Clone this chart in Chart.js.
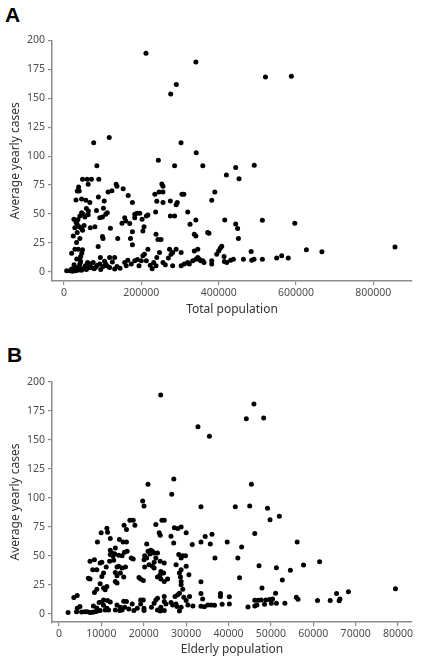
<!DOCTYPE html>
<html>
<head>
<meta charset="utf-8">
<script src="https://cdn.jsdelivr.net/npm/chart.js@4.4.1/dist/chart.umd.min.js"></script>
<style>
  html, body { margin: 0; padding: 0; background: #fff; }
  body { width: 421px; height: 665px; position: relative; overflow: hidden; }
  .wrap { position: absolute; left: 0; width: 421px; height: 332px; }
  .lbl { position: absolute; font-family: "Liberation Sans", Arial, sans-serif; font-weight: bold; font-size: 21px; line-height: 21px; color: #000; }
</style>
</head>
<body>
<div class="lbl" style="left:5px; top:4px;">A</div>
<div class="lbl" style="left:7px; top:344px;">B</div>
<div class="wrap" style="top:0px;"><canvas id="cA" width="421" height="332"></canvas></div>
<div class="wrap" style="top:333px;"><canvas id="cB" width="421" height="332"></canvas></div>
<script>
// ---- Data ----
const yTicks = [0, 25, 50, 75, 100, 125, 150, 175, 200];
const xTicksA = [0, 200000, 400000, 600000, 800000];
const xTicksB = [0, 10000, 20000, 30000, 40000, 50000, 60000, 70000, 80000];
const xTitleA = "Total population";
const xTitleB = "Elderly population";
const yTitle = "Average yearly cases";

// [total population, average yearly cases]
const totalPopVsCases = [
  [212000,189],[341000,181.5],[290500,162],[276000,153.8],[521000,168.5],[588000,169],[302700,111.6],[342000,103],
  [76800,111.6],[117000,116.2],[244000,96.5],[85000,91.7],[286000,91.7],[359000,91.7],[444000,90.2],[492000,92.2],
  [420000,83.6],[452700,80.5],[390000,69],[382000,61.8],[415700,44.8],[513000,44.5],[596800,42],[444000,41.4],
  [449000,37.4],[375000,33.3],[451000,28.7],[856000,21.3],[627000,19],[667000,17.2],[484000,17.5],[395000,15.2],
  [400000,18],[404000,20.4],[408000,22.1],[353600,9.5],[362000,8],[382000,9.5],[382000,6.6],[414000,13.2],
  [414700,8.9],[421000,8],[431000,10],[438000,10.9],[464000,10.9],[485500,10],[491500,10.9],[513000,10.9],
  [550000,12],[563000,13.8],[580000,11.8],
  [48000,80],[60000,80],[71000,80],[90000,80],[62600,75.6],[37700,73.3],[34300,69.8],[39500,69.8],[31000,62],
  [45500,63],[56600,61.8],[67000,59.8],[89000,64.6],[104000,61.2],[114000,69],[124000,70],[135000,75.6],[137000,74],
  [153000,71.8],[166000,66],[177000,59.8],[58000,54.6],[63000,52.6],[45500,51],[49700,49.7],[41000,48.3],[54000,47.4],
  [62600,49.4],[84000,53],[92700,46.8],[99500,47.4],[108000,49.7],[112000,51],[160000,44],[157000,46.8],[170000,41.7],
  [183000,49.7],[189000,50.6],[196000,50.6],[183000,46.8],[202000,45.4],[213000,48.3],[217000,49.1],[207000,39],
  [204000,35.3],[177000,34.5],[172000,28.7],[177000,23.3],[25700,45.4],[31000,43],[34000,41],[39500,39],[44600,37.9],
  [48000,35.9],[24000,31],[34300,33.9],[41000,28.7],[32600,25.3],[37000,19.5],[28300,19.5],[48000,19],[19700,16],
  [88400,21.8],[99500,30.5],[101000,28.7],[120000,37.6],[139000,28.7],[94000,12.3],[118000,12.3],[131000,12.3],
  [235000,67],[246000,69],[256000,69],[253000,76],[256000,74],[240000,61],[256000,59.8],[237000,51.7],[275000,61.2],
  [290000,58],[293000,59.8],[275000,48.3],[286000,48.3],[238000,32.5],[243000,28],[251000,28],[320000,51.7],
  [305000,67],[310000,67],[326000,41],[341000,44.8],[337000,32.5],[341000,31],[371500,34],
  [6900,0.9],[15400,0.9],[19700,2.3],[25700,1.7],[31000,2.9],[35200,3.7],[39500,4.6],[41000,6.6],[43000,8.6],
  [41000,10.9],[43000,13.2],[49700,2.3],[55000,5.2],[61000,8],[67000,6.6],[71000,3.7],[75500,8],[85800,5.7],
  [92700,6.6],[101000,4.6],[108000,6.6],[118000,3.7],[131000,2.3],[137000,4.6],[157000,8],[161000,5.2],[174000,6.6],
  [183000,9.5],[194000,5.2],[200000,9.5],[204000,13.8],[208000,15.2],[217000,19.5],[213000,9.5],[223000,5.7],
  [232000,8],[238000,5.2],[240000,12.4],[247000,16.7],[256000,8],[273000,19.5],[277000,15.2],[281000,16.7],
  [290000,19.5],[303000,16.7],[281000,5.2],[303000,5.2],[311000,6.6],[320000,8],[324000,6.6],[333000,9.5],
  [341000,10.9],[346000,12.4],[350000,10.9],[359000,9.5],[337000,18],[346000,19.5],
  [22000,0.5],[28000,1],[33000,1.5],[36000,2],[30000,0.8],[45000,1.2],[38000,1.5],[52000,3],[58000,2],[64000,3.5],
  [78000,2.5],[82000,4],[95000,2],[105000,9],[112000,5],[125000,8.5],[145000,3],[165000,10],[190000,10.5],
  [228000,2.5],[262000,6],[270000,12],[26000,6],[33000,11],[46000,16],[28000,38],[36000,45],[52000,40],[68000,38],
  [80000,39],[102000,55],[150000,42]
];

// [elderly population, average yearly cases]
const elderlyPopVsCases = [
  [24000,188.5],[32800,161.2],[35500,153],[21000,111.5],[27100,116],[26600,103],[46000,180.7],[44200,168],
  [48300,168.7],[45400,111.5],
  [33500,92.2],[41600,92.2],[45000,92.8],[49200,90.8],[52000,84],[49800,81],[46200,69],[36100,68.5],[34500,66.5],
  [33500,61.8],[35700,60],[39700,61.8],[43100,57.5],[56200,61.8],[36800,48],[42200,48],[61500,44.8],[47200,41.3],
  [51300,39.6],[54600,37.3],[57700,41.9],[42600,30.9],[52700,28.9],[33500,27.5],[47900,22],[79400,21.4],[68300,18.8],
  [65500,17.3],[33500,17.3],[38100,17.3],[38100,14.7],[40200,14.5],[51100,17.6],[33900,12.7],[56000,14.2],[56400,12.4],
  [61000,11.3],[64000,11.3],[66100,11],[66300,12.7],[46200,11.5],[47000,11.5],[47700,11.8],[48800,11.8],[49700,12.2],
  [50400,12.7],[46700,7.5],[48500,8],[50100,9],[51300,9],[53300,9],[46200,6.6],[44600,5.8],[33500,6.4],[34300,6],
  [35100,7.5],[35900,7.5],[36700,7.2],[38500,8],[40200,8.4],
  [19740,97.1],[20060,92.8],[16720,80.6],[17510,80.6],[24280,80.6],[24840,80.6],[15360,76.3],[17910,76.3],[22850,76.9],
  [11300,73.7],[15920,72.5],[27220,74],[28020,73.4],[28820,74.6],[9950,69.7],[11460,70.2],[23640,69.7],[30010,69.7],
  [23880,67.6],[26430,66.8],[12100,64.7],[14250,63.9],[9070,61.8],[15120,61.8],[15920,61.8],[27060,61],[20700,60.1],
  [31440,59.5],[13290,56.6],[12100,54.6],[12500,52.3],[13130,51.7],[15440,52.9],[16080,53.8],[21010,53.8],[21650,54.6],
  [22050,53.8],[12100,50.9],[12740,49.4],[14090,50.3],[14890,50],[20220,50],[20700,48],[21490,51.4],[22450,52.3],
  [23240,52.3],[28260,50.9],[29210,50],[29850,50],[8360,46.5],[10110,44.2],[17030,48],[17510,47.1],[20060,46.5],
  [22850,48],[28820,48],[7320,45.1],[11940,45.1],[12900,46],[9710,43.6],[22450,44.2],[23880,45.1],[24840,43.6],
  [27620,42.2],[7960,37.9],[11140,40.2],[13690,40.2],[14090,40.8],[20220,40.2],[21250,42.2],[22050,40.8],[22450,39.3],
  [30010,40.8],[28820,37.9],[8920,37.9],[14890,39.3],[15680,40.2],[24040,36.4],[24680,35],[10510,35],[13290,35.5],
  [14490,35],[23880,33.5],[28420,35],[13690,32.7],[15280,31.5],[24040,29.8],[28660,31.5],[30650,33.5],[6930,30.6],
  [7320,29.8],[10110,32.1],[18870,31.2],[19260,29.8],[19900,28.6],[23240,31.5],[25630,29.8],[13290,27.7],[13690,26.3],
  [24840,27.7],[28820,27.7],[9710,25.7],[28820,24.9],[10510,22],[8920,21.1],[11300,23.4],[29210,21.1],[8360,18.2],
  [10900,20.5],[4300,15.6],[27380,14.7],[28020,16.2],[28420,17.6],[3500,13.9],[10510,11.8],[11460,11.3],[22850,11.8],
  [23240,13.3],[24840,14.7],[29450,14.2],[30810,14.7],[9470,9.5],[10110,10.1],[12100,10.1],[15280,10.7],[15920,10.4],
  [19260,11.8],[19900,11.8],[24840,10.4],[26430,9.5],[30010,11.3],[8120,6.6],[10510,7.2],[13690,7.5],[17270,8.4],
  [19260,8.4],[22450,9],[25230,8.4],[26830,7.5],[27620,8.4],[30410,7.5],[31600,6.6],[4300,4.6],[4940,6.1],[8920,4.9],
  [11300,4.6],[14490,5.5],[15520,5.5],[16480,4],[18470,4.6],[20060,4.6],[21810,5.5],[24040,5.5],[27860,6.1],[28820,5.5],
  [2150,0.9],[4140,1.7],[5330,1.4],[6130,1.7],[6690,1.7],[7320,0.9],[7960,1.2],[8520,1.7],[9070,2.3],[9710,2.6],
  [10900,3.2],[11700,3.2],[13290,3.2],[14330,2.6],[14890,3.2],[17670,2.6],[20060,2.6],[23240,3.2],[23880,2.3],
  [24840,2.6],[28420,2.3]
];

// ---- Styling / chart builder ----
const AXIS_COLOR = '#8c8c8c';
const TICK_TEXT = '#4d4d4d';
const TITLE_TEXT = '#333333';
const FONT = '"Noto Sans", "Open Sans", sans-serif';

function makeChart(id, points, xTicks, xMin, xMax, yMin, xTitle, pad, xAxisH) {
  return new Chart(document.getElementById(id), {
    type: 'scatter',
    data: {
      datasets: [{
        data: points.map(p => ({ x: p[0], y: p[1] })),
        backgroundColor: '#000000',
        borderWidth: 0,
        pointRadius: 2.5,
        pointHoverRadius: 2.5
      }]
    },
    options: {
      responsive: false,
      animation: false,
      events: [],
      layout: { padding: pad },
      plugins: { legend: { display: false }, tooltip: { enabled: false } },
      scales: {
        x: {
          type: 'linear',
          min: xMin, max: xMax,
          afterBuildTicks: s => { s.ticks = xTicks.map(v => ({ value: v })); },
          afterFit: s => { s.height = xAxisH; },
          ticks: { callback: v => String(v), font: { family: FONT, size: 10.5 }, color: TICK_TEXT, padding: 2, maxRotation: 0, autoSkip: false },
          grid: { display: true, drawOnChartArea: false, drawTicks: true, tickLength: 4, color: AXIS_COLOR, lineWidth: 1.2 },
          border: { display: true, color: AXIS_COLOR, width: 1.5 },
          title: { display: true, text: xTitle, font: { family: FONT, size: 12 }, color: TITLE_TEXT, padding: 0 }
        },
        y: {
          type: 'linear',
          min: yMin, max: 200,
          afterBuildTicks: s => { s.ticks = yTicks.map(v => ({ value: v })); },
          afterFit: s => { s.width = 44; },
          ticks: { callback: v => String(v), font: { family: FONT, size: 10.5 }, color: TICK_TEXT, padding: 3, autoSkip: false },
          grid: { display: true, drawOnChartArea: false, drawTicks: true, tickLength: 4, color: AXIS_COLOR, lineWidth: 1.2 },
          border: { display: true, color: AXIS_COLOR, width: 1.5 },
          title: { display: true, text: yTitle, font: { family: FONT, size: 12 }, color: TITLE_TEXT, padding: 0 }
        }
      }
    }
  });
}

makeChart('cA', totalPopVsCases, xTicksA, -31000, 900000, -8, xTitleA,
  { top: 40.5, right: 9, bottom: 14.8, left: 8 }, 36.2);
makeChart('cB', elderlyPopVsCases, xTicksB, -1650, 83300, -7.4, xTitleB,
  { top: 48.7, right: 9, bottom: 7.8, left: 8 }, 35);
</script>
</body>
</html>
